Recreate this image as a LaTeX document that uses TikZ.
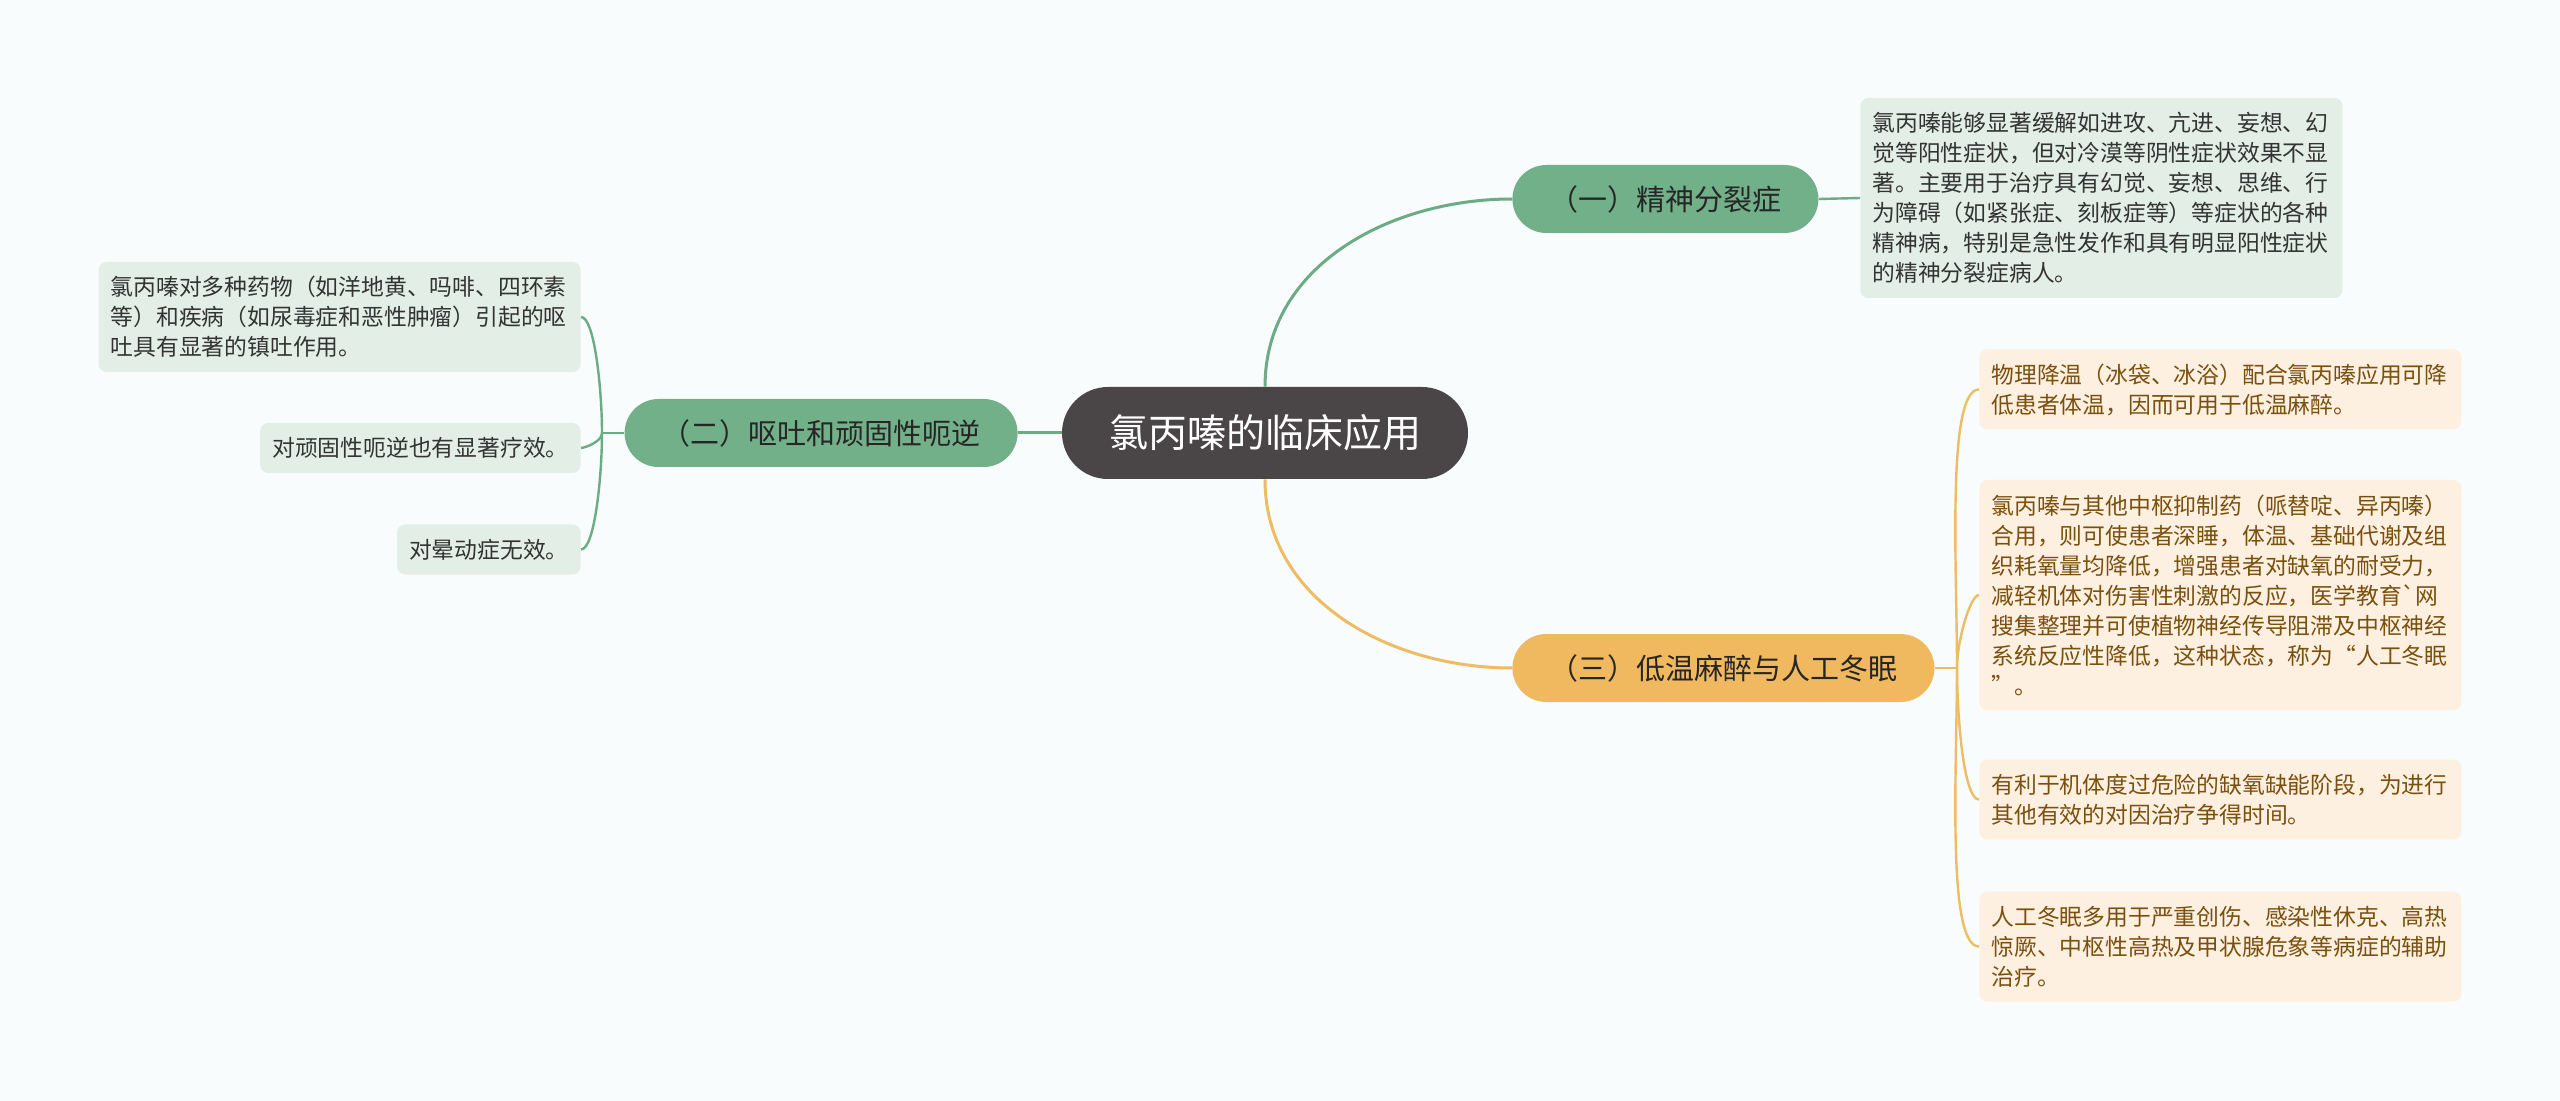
\documentclass[tikz,border=0pt]{standalone}
\usepackage{fontspec}
\newfontfamily\cjk{Noto Sans CJK SC}
\definecolor{bg}{RGB}{248,252,252}
\definecolor{rootc}{RGB}{74,69,70}
\definecolor{grn}{RGB}{114,176,137}
\definecolor{grnline}{RGB}{108,172,133}
\definecolor{grnleaf}{RGB}{227,239,230}
\definecolor{org}{RGB}{240,185,96}
\definecolor{orgline}{RGB}{238,188,100}
\definecolor{orgleaf}{RGB}{253,240,224}
\definecolor{orgtext}{RGB}{122,80,14}

\begin{document}
\begin{tikzpicture}[x=0.5pt,y=-0.5pt,
    every node/.style={inner sep=0pt},
    root/.style={fill=rootc,text=white,rounded corners=23pt,minimum height=46pt,
      inner xsep=23.5pt,font=\cjk\fontsize{19.5pt}{24pt}\selectfont},
    branch/.style={fill=#1,text=black!85,rounded corners=17pt,minimum height=34pt,
      inner xsep=18.5pt,font=\cjk\fontsize{14.5pt}{18pt}\selectfont},
    leaf/.style={rounded corners=4pt,inner xsep=6pt,inner ysep=2pt,align=left,
      font=\cjk\fontsize{11.4pt}{15pt}\selectfont},
    gleaf/.style={leaf,fill=grnleaf,text=black!80},
    oleaf/.style={leaf,fill=orgleaf,text=orgtext},
    wide/.style={text width=229pt},
    trunk/.style={line width=1.5pt},
    twig/.style={line width=1.2pt,out looseness=0.9,in looseness=0.3}]
  \useasboundingbox (0,0) rectangle (2560,1101);
  \fill[bg] (0,0) rectangle (2560,1101);

  \node[root] (Root) at (1265,433) {氯丙嗪的临床应用};
  \node[branch=grn,anchor=west] (Root-1) at (1512,199) {（一）精神分裂症};
  \node[branch=grn,anchor=east] (Root-2) at (1018,433) {（二）呕吐和顽固性呃逆};
  \node[branch=org,anchor=west] (Root-3) at (1512,668) {（三）低温麻醉与人工冬眠};

  % leaves
  \node[gleaf,wide,anchor=west,minimum height=100pt] (Root-1-1) at (1860,198)
    {氯丙嗪能够显著缓解如进攻、亢进、妄想、幻\\觉等阳性症状，但对冷漠等阴性症状效果不显\\著。主要用于治疗具有幻觉、妄想、思维、行\\为障碍（如紧张症、刻板症等）等症状的各种\\精神病，特别是急性发作和具有明显阳性症状\\的精神分裂症病人。};
  \node[gleaf,wide,anchor=east,minimum height=55pt] (Root-2-1) at (581,317)
    {氯丙嗪对多种药物（如洋地黄、吗啡、四环素\\等）和疾病（如尿毒症和恶性肿瘤）引起的呕\\吐具有显著的镇吐作用。};
  \node[gleaf,anchor=east,minimum height=25pt] (Root-2-2) at (581,448) {对顽固性呃逆也有显著疗效。};
  \node[gleaf,anchor=east,minimum height=25pt] (Root-2-3) at (581,549.5) {对晕动症无效。};
  \node[oleaf,wide,anchor=west,minimum height=40pt] (Root-3-1) at (1979,389.5)
    {物理降温（冰袋、冰浴）配合氯丙嗪应用可降\\低患者体温，因而可用于低温麻醉。};
  \node[oleaf,wide,anchor=west,minimum height=115pt] (Root-3-2) at (1979,595)
    {氯丙嗪与其他中枢抑制药（哌替啶、异丙嗪）\\合用，则可使患者深睡，体温、基础代谢及组\\织耗氧量均降低，增强患者对缺氧的耐受力，\\减轻机体对伤害性刺激的反应，医学教育`网\\搜集整理并可使植物神经传导阻滞及中枢神经\\系统反应性降低，这种状态，称为“人工冬眠\\”。};
  \node[oleaf,wide,anchor=west,minimum height=40pt] (Root-3-3) at (1979,799.5)
    {有利于机体度过危险的缺氧缺能阶段，为进行\\其他有效的对因治疗争得时间。};
  \node[oleaf,wide,anchor=west,minimum height=55pt] (Root-3-4) at (1979,946.5)
    {人工冬眠多用于严重创伤、感染性休克、高热\\惊厥、中枢性高热及甲状腺危象等病症的辅助\\治疗。};

  % connectors
  \draw[grnline,trunk] (Root.north) to[out=90,in=180] (Root-1.west);
  \draw[grnline,trunk] (Root.west) -- (Root-2.east);
  \draw[orgline,trunk] (Root.south) to[out=-90,in=180] (Root-3.west);
  \draw[grnline,twig] (Root-1.east) -- (Root-1-1.west);
  \coordinate (Fork-2) at (602,433);
  \coordinate (Fork-3) at (1957,668);
  \draw[grnline,twig] (Root-2.west) -- (Fork-2);
  \foreach \i/\a in {1/90,2/-90,3/-90}
    \draw[grnline,twig] (Fork-2) to[out=\a,in=0] (Root-2-\i.east);
  \draw[orgline,twig] (Root-3.east) -- (Fork-3);
  \foreach \i/\a in {1/90,2/90,3/-90,4/-90}
    \draw[orgline,twig] (Fork-3) to[out=\a,in=180] (Root-3-\i.west);
\end{tikzpicture}
\end{document}
